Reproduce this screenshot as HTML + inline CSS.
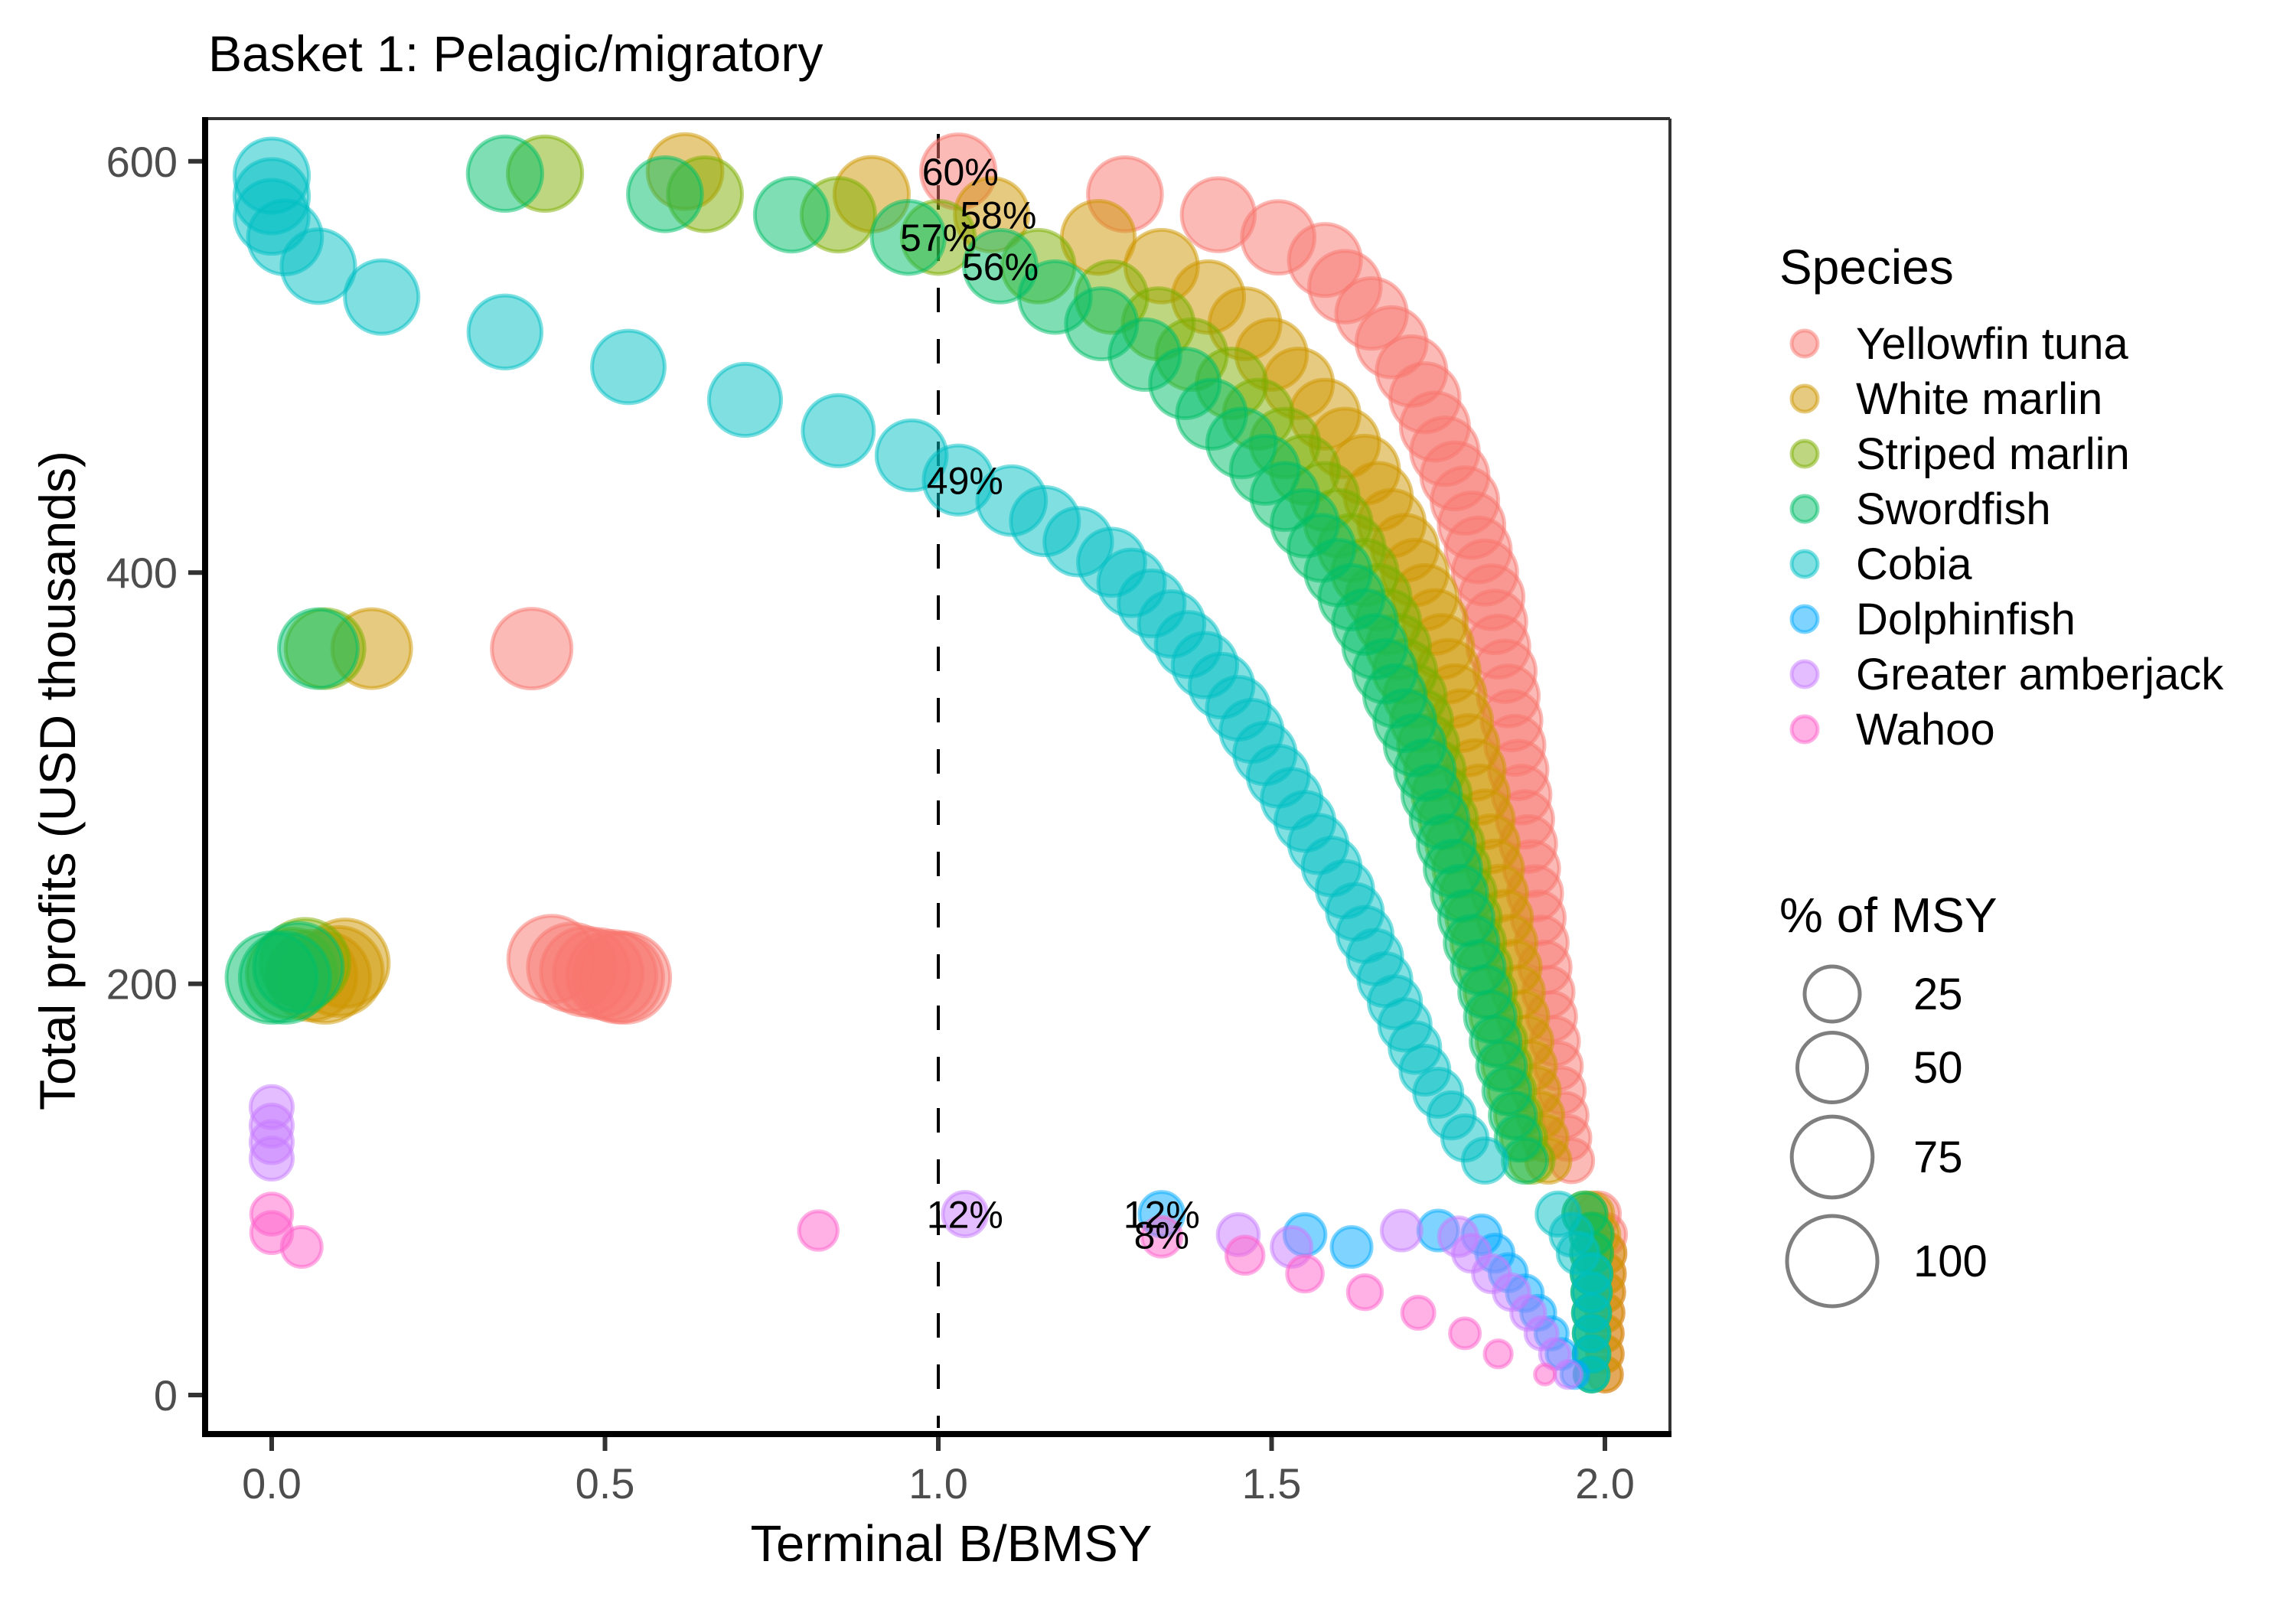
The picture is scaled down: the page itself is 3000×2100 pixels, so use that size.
<!DOCTYPE html>
<html><head><meta charset="utf-8"><style>
html,body{margin:0;padding:0;background:#fff;}
svg{display:block;font-family:"Liberation Sans",Arial,sans-serif;}
</style></head><body>
<svg id="chart" width="3000" height="2100" viewBox="0 0 3000 2100" xmlns="http://www.w3.org/2000/svg">
<rect width="3000" height="2100" fill="#fff"/>
<text x="272" y="93" font-size="66" fill="#000">Basket 1: Pelagic/migratory</text>
<g id="points"></g>
<g id="axes"></g>
<g id="legend"></g>
</svg>
<script>
const speciesNames = ["Yellowfin tuna","White marlin","Striped marlin","Swordfish","Cobia","Dolphinfish","Greater amberjack","Wahoo"];
const speciesColors = ["#F8766D","#CD9600","#7CAE00","#00BE67","#00BFC4","#00A9FF","#C77CFF","#FF61CC"];
const xTicks = [0,0.5,1,1.5,2];
const xTickLabels = ["0.0","0.5","1.0","1.5","2.0"];
const yTicks = [0,200,400,600];
const yTickLabels = ["0","200","400","600"];
const sizeBreaks = [25,50,75,100];

const yellowfinX = [1.03,1.28,1.42,1.51,1.58,1.61,1.65,1.68,1.71,1.73,1.745,1.76,1.775,1.79,1.80,1.81,1.82,1.83,1.835,1.84,1.85,1.855,1.86,1.865,1.87,1.875,1.88,1.885,1.89,1.895,1.90,1.905,1.91,1.915,1.92,1.925,1.93,1.935,1.94,1.945,1.95, 0.39,0.42,0.45,0.47,0.49,0.51,0.52,0.53, 1.99,2.0,2.0,2.0,2.0,2.0,2.0,2.0,2.0];
const yellowfinY = [595,584,574,563,552,539,526,512,498,485,471,459,447,435,423,411,400,388,376,364,352,340,328,316,304,292,280,268,256,244,232,220,208,196,184,172,160,148,136,125,114, 363,212,208,206,205,204,203,203, 88,78,69,59,50,40,30,20,10];
const yellowfinPct = [60,59,57,56,55,54,52,51,50,49,47,46,45,44,42,41,40,39,37,36,35,34,32,31,30,29,27,26,25,24,22,21,20,19,17,16,15,14,13,12,11, 72,90,92,94,96,97,98,100, 11,10,9,8,7,6,5,5,4];

const whiteMarlinX = [0.62,0.90,1.08,1.24,1.335,1.405,1.46,1.50,1.54,1.58,1.61,1.64,1.66,1.68,1.70,1.715,1.73,1.745,1.755,1.765,1.775,1.785,1.795,1.805,1.812,1.82,1.828,1.835,1.842,1.85,1.857,1.864,1.87,1.877,1.884,1.89,1.897,1.903,1.91,1.915, 0.15,0.06,0.08,0.10,0.11, 1.98,1.99,2.0,2.0,2.0,2.0,2.0,2.0,2.0];
const whiteMarlinY = [595,584,574,563,549,534,521,506,492,477,463,450,437,424,412,400,388,376,364,352,340,328,316,304,292,280,268,256,244,232,220,208,196,184,172,160,148,136,125,114, 363,204,203,206,210, 88,78,69,59,50,40,30,20,10];
const whiteMarlinPct = [61,60,58,57,56,54,53,52,50,49,48,47,45,44,43,42,40,39,38,37,35,34,33,32,30,29,28,27,25,24,23,22,20,19,18,17,15,14,13,12, 70,98,100,96,92, 11,10,9,8,7,6,5,5,4];

const stripedMarlinX = [0.41,0.65,0.85,1.0,1.15,1.26,1.33,1.38,1.44,1.48,1.52,1.55,1.58,1.60,1.62,1.64,1.66,1.675,1.69,1.70,1.715,1.725,1.735,1.745,1.755,1.765,1.775,1.785,1.795,1.803,1.81,1.82,1.828,1.836,1.845,1.853,1.86,1.87,1.878,1.89, 0.08,0.03,0.05, 1.97,1.98,1.98,1.98,1.98,1.98,1.98,1.98,1.98];
const stripedMarlinY = [594,584,574,563,549,534,521,506,492,477,463,450,437,424,412,400,388,376,364,352,340,328,316,304,292,280,268,256,244,232,220,208,196,184,172,160,148,136,125,114, 363,205,210, 88,78,69,59,50,40,30,20,10];
const stripedMarlinPct = [60,59,58,57,56,54,53,52,50,49,48,47,45,44,43,42,40,39,38,37,35,34,33,32,30,29,28,27,25,24,23,22,20,19,18,17,15,14,13,12, 70,98,95, 11,10,9,8,7,6,5,5,4];

const swordfishX = [0.35,0.59,0.78,0.955,1.093,1.175,1.245,1.31,1.37,1.41,1.455,1.49,1.52,1.55,1.575,1.60,1.62,1.64,1.655,1.67,1.685,1.70,1.715,1.73,1.74,1.752,1.762,1.772,1.782,1.792,1.80,1.81,1.82,1.828,1.836,1.845,1.853,1.862,1.87,1.88, 0.07,0.0,0.02,0.04, 1.97,1.98,1.98,1.98,1.98,1.98,1.98,1.98,1.98];
const swordfishY = [594,584,574,563,549,534,521,506,492,477,463,450,437,424,412,400,388,376,364,352,340,328,316,304,292,280,268,256,244,232,220,208,196,184,172,160,148,136,125,114, 363,203,203,208, 88,78,69,59,50,40,30,20,10];
const swordfishPct = [60,59,58,57,56,54,53,52,50,49,48,47,45,44,43,42,40,39,38,37,35,34,33,32,30,29,28,27,25,24,23,22,20,19,18,17,15,14,13,12, 70,100,100,96, 11,10,9,8,7,6,5,5,4];

const cobiaX = [0,0,0,0.02,0.07,0.165,0.35,0.535,0.71,0.85,0.96,1.03,1.11,1.16,1.21,1.26,1.29,1.32,1.35,1.375,1.40,1.425,1.45,1.47,1.49,1.51,1.53,1.55,1.57,1.59,1.61,1.625,1.64,1.655,1.67,1.685,1.70,1.715,1.73,1.75,1.77,1.79,1.82, 1.93,1.95,1.96,1.98,1.98,1.98,1.98,1.98,1.98];
const cobiaY = [593,583,573,563,549,534,517,500,484,469,457,445,435,425,415,405,395,385,375,365,355,345,334,323,312,301,290,279,268,257,246,235,224,213,202,191,180,169,158,147,136,125,114, 88,78,69,59,50,40,30,20,10];
const cobiaPct = [60,60,59,59,58,58,57,56,55,53,51,49,48,47,46,45,44,43,42,41,40,39,37,36,35,34,32,31,30,29,27,26,25,24,22,21,20,19,17,16,14,13,12, 11,10,9,8,7,6,5,5,4];

const dolphinX = [1.335,1.55,1.62,1.75,1.815,1.835,1.855,1.88,1.90,1.92,1.935,1.955];
const dolphinY = [88,78,72,80,78,69,59.5,49.5,40,30,20,10];
const dolphinPct = [12,9,8,8,7,6,6,5,4,3,2,1];

const amberjackX = [0,0,0,0,1.04,1.45,1.53,1.695,1.78,1.80,1.83,1.86,1.885,1.905,1.925,1.945];
const amberjackY = [140,131,123,115,88,78,72,80,77,69,59,50,40,30,20,10];
const amberjackPct = [10,10,10,10,12,9,8,8,7,6,6,5,4,3,2,1];

const wahooX = [0,0,0.045,0.82,1.335,1.46,1.55,1.64,1.72,1.79,1.84,1.91];
const wahooY = [88,79,72,80,77,68,59,50,40,30,20,10];
const wahooPct = [9,9,8,7,8,6,5,4,3,2,1,0];

const annotText = ["60%","58%","57%","56%","49%","12%","12%","8%"];
const annotX = [1.033,1.09,1.0,1.093,1.04,1.04,1.335,1.335];
const annotY = [595,574,563,549,445,88,88,78];

const NS = "http://www.w3.org/2000/svg";
const PL = 268, PR = 2182, PT = 155, PB = 1874;
function xs(v){ return 355 + v * 871; }
function ys(v){ return 1823 - v * 2.687; }
function rs(p){ return 13 + 46 * Math.sqrt(Math.max(p,0) / 100); }
function mk(tag, attrs, parent){
  const e = document.createElementNS(NS, tag);
  for (const k in attrs) e.setAttribute(k, attrs[k]);
  parent.appendChild(e);
  return e;
}
const svg = document.getElementById("chart");
const pts = document.getElementById("points");
const axes = document.getElementById("axes");
const leg = document.getElementById("legend");

const ref = mk("line", {x1: xs(1), x2: xs(1), y1: PT+20, y2: PB-8, stroke: "#000", "stroke-width": 4, "stroke-dasharray": "32 35"}, pts);



const series = [
  [yellowfinX, yellowfinY, yellowfinPct],
  [whiteMarlinX, whiteMarlinY, whiteMarlinPct],
  [stripedMarlinX, stripedMarlinY, stripedMarlinPct],
  [swordfishX, swordfishY, swordfishPct],
  [cobiaX, cobiaY, cobiaPct],
  [dolphinX, dolphinY, dolphinPct],
  [amberjackX, amberjackY, amberjackPct],
  [wahooX, wahooY, wahooPct]
];
series.forEach(function(s, si){
  const g = mk("g", {}, pts);
  
  
  for (let i = 0; i < s[0].length; i++){
    const c = mk("circle", {cx: xs(s[0][i]), cy: ys(s[1][i]), r: rs(s[2][i]), fill: speciesColors[si], "fill-opacity": 0.5, stroke: speciesColors[si], "stroke-opacity": 0.5, "stroke-width": 5}, g);
    
    
  }
});
annotText.forEach(function(t, i){
  const e = mk("text", {x: xs(annotX[i]), y: ys(annotY[i]) + 18, "font-size": 50, "text-anchor": "middle", fill: "#000"}, pts);
  e.textContent = t;
  
  
});

let e;
e = mk("line", {x1: PL, x2: PR, y1: PT, y2: PT, stroke: "#333", "stroke-width": 4}, axes);
 
e = mk("line", {x1: PR, x2: PR, y1: PT, y2: PB, stroke: "#333", "stroke-width": 4}, axes);
 
e = mk("line", {x1: PL, x2: PL, y1: PT-2, y2: PB+4, stroke: "#000", "stroke-width": 8}, axes);
 
e = mk("line", {x1: PL-4, x2: PR+2, y1: PB, y2: PB, stroke: "#000", "stroke-width": 8}, axes);
 

xTicks.forEach(function(v, i){
  const t = mk("line", {x1: xs(v), x2: xs(v), y1: PB+4, y2: PB+22, stroke: "#333", "stroke-width": 6}, axes);
   
  const l = mk("text", {x: xs(v), y: PB + 84, "font-size": 56, "text-anchor": "middle", fill: "#4d4d4d"}, axes);
  l.textContent = xTickLabels[i];
   
});
yTicks.forEach(function(v, i){
  const t = mk("line", {x1: PL-22, x2: PL-4, y1: ys(v), y2: ys(v), stroke: "#333", "stroke-width": 6}, axes);
   
  const l = mk("text", {x: PL - 36, y: ys(v) + 20, "font-size": 56, "text-anchor": "end", fill: "#4d4d4d"}, axes);
  l.textContent = yTickLabels[i];
   
});
e = mk("text", {x: 1243, y: 2040, "font-size": 67, "text-anchor": "middle", fill: "#000"}, axes);
e.textContent = "Terminal B/BMSY";
 
e = mk("text", {x: 0, y: 0, "font-size": 66, "text-anchor": "middle", fill: "#000", transform: "translate(98,1020) rotate(-90)"}, axes);
e.textContent = "Total profits (USD thousands)";
 

e = mk("text", {x: 2325, y: 371, "font-size": 64, fill: "#000"}, leg);
e.textContent = "Species";
 
speciesNames.forEach(function(n, i){
  const y = 449 + i * 72;
  const c = mk("circle", {cx: 2358, cy: y, r: 17, fill: speciesColors[i], "fill-opacity": 0.5, stroke: speciesColors[i], "stroke-opacity": 0.5, "stroke-width": 5}, leg);
   
  const t = mk("text", {x: 2425, y: y + 20, "font-size": 58, fill: "#000"}, leg);
  t.textContent = n;
   
});
e = mk("text", {x: 2325, y: 1218, "font-size": 64, fill: "#000"}, leg);
e.textContent = "% of MSY";
 
const sizeY = [1299,1395,1512,1648];
sizeBreaks.forEach(function(b, i){
  const c = mk("circle", {cx: 2394, cy: sizeY[i], r: rs(b), fill: "none", stroke: "#7f7f7f", "stroke-width": 5}, leg);
   
  const t = mk("text", {x: 2500, y: sizeY[i] + 20, "font-size": 58, fill: "#000"}, leg);
  t.textContent = String(b);
   
});
</script>
</body></html>
